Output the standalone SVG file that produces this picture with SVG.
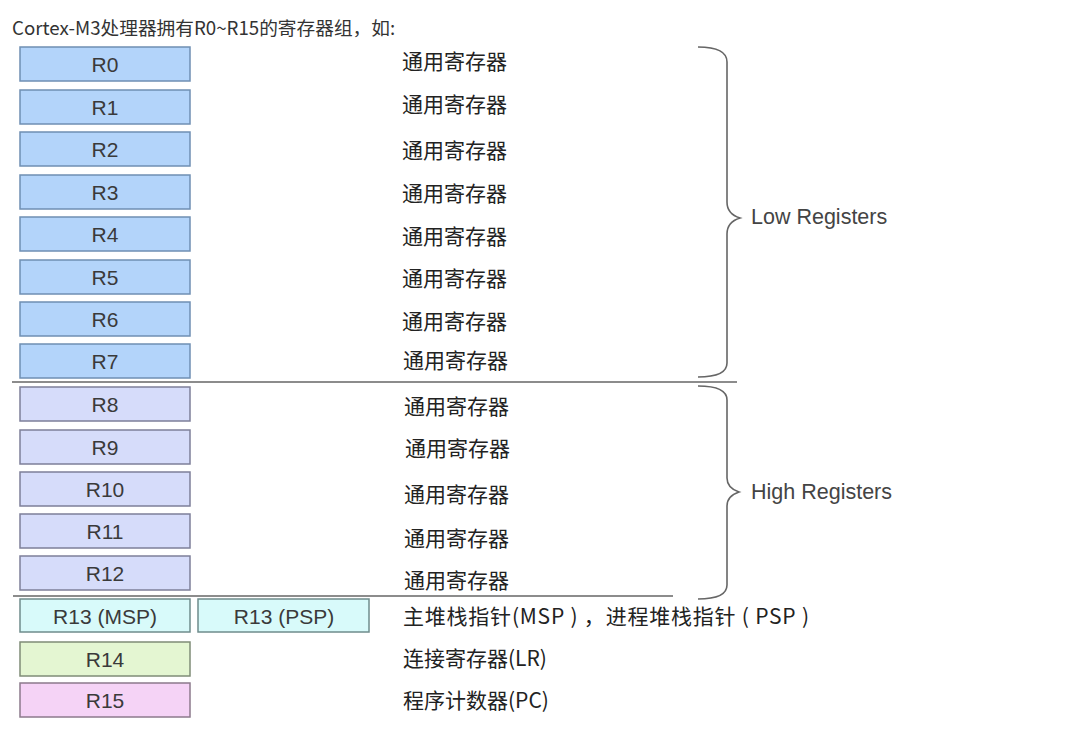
<svg xmlns="http://www.w3.org/2000/svg" width="1073" height="741" viewBox="0 0 1073 741">
<style>
.bg{fill:#ffffff}
.reg{stroke-width:1.5}
.low{fill:#b3d4fa;stroke:#6f8fb3}
.high{fill:#d6dcfa;stroke:#7d7f99}
.sp{fill:#d8fafa;stroke:#6f8c8c}
.lr{fill:#e4f6d2;stroke:#7f8c77}
.pc{fill:#f5d3f6;stroke:#8c7a8c}
.rt{font-family:"Liberation Sans",Arial,sans-serif;font-size:21px;fill:#3a3a3a;text-anchor:middle;dominant-baseline:central}
.desc{font-family:"Noto Sans CJK SC","Liberation Sans",sans-serif;font-size:21px;fill:#222;dominant-baseline:central}
.title{font-family:"Noto Sans CJK SC","Liberation Sans",sans-serif;font-size:18.7px;fill:#333}
.lab{font-family:"Liberation Sans",Arial,sans-serif;font-size:21.5px;fill:#444;dominant-baseline:central}
.brace{fill:none;stroke:#666;stroke-width:1.6}
.sep{stroke:#666;stroke-width:1.6}
</style>
<rect class="bg" x="0" y="0" width="1073" height="741"/>
<text class="title" x="12" y="35">Cortex-M3处理器拥有R0~R15的寄存器组，如:</text>

<g id="connectors">
<line class="sep" x1="12" y1="382" x2="737" y2="382"/>
<line class="sep" x1="13" y1="596" x2="673" y2="596"/>
<path class="brace" d="M698,47 Q727,47 727,62 L727,202 Q727,214 740,218 Q727,222 727,234 L727,363 Q727,377 698,377"/>
<path class="brace" d="M698,386 Q727,386 727,400 L727,478 Q727,488 739,492 Q727,496 727,506 L727,585 Q727,599 698,599"/>
</g>

<g id="r0"><rect class="reg low" x="20" y="47" width="170" height="34"/><text class="rt" x="105" y="64">R0</text><text class="desc" x="402" y="60">通用寄存器</text></g>
<g id="r1"><rect class="reg low" x="20" y="90" width="170" height="34"/><text class="rt" x="105" y="107">R1</text><text class="desc" x="402" y="103">通用寄存器</text></g>
<g id="r2"><rect class="reg low" x="20" y="132" width="170" height="34"/><text class="rt" x="105" y="149">R2</text><text class="desc" x="402" y="149">通用寄存器</text></g>
<g id="r3"><rect class="reg low" x="20" y="175" width="170" height="34"/><text class="rt" x="105" y="192">R3</text><text class="desc" x="402" y="192">通用寄存器</text></g>
<g id="r4"><rect class="reg low" x="20" y="217" width="170" height="34"/><text class="rt" x="105" y="234">R4</text><text class="desc" x="402" y="235">通用寄存器</text></g>
<g id="r5"><rect class="reg low" x="20" y="260" width="170" height="34"/><text class="rt" x="105" y="277">R5</text><text class="desc" x="402" y="277">通用寄存器</text></g>
<g id="r6"><rect class="reg low" x="20" y="302" width="170" height="34"/><text class="rt" x="105" y="319">R6</text><text class="desc" x="402" y="320">通用寄存器</text></g>
<g id="r7"><rect class="reg low" x="20" y="344" width="170" height="34"/><text class="rt" x="105" y="361">R7</text><text class="desc" x="403" y="359">通用寄存器</text></g>
<g id="r8"><rect class="reg high" x="20" y="387" width="170" height="34"/><text class="rt" x="105" y="404">R8</text><text class="desc" x="404" y="405">通用寄存器</text></g>
<g id="r9"><rect class="reg high" x="20" y="430" width="170" height="34"/><text class="rt" x="105" y="447">R9</text><text class="desc" x="405" y="447">通用寄存器</text></g>
<g id="r10"><rect class="reg high" x="20" y="472" width="170" height="34"/><text class="rt" x="105" y="489">R10</text><text class="desc" x="404" y="493">通用寄存器</text></g>
<g id="r11"><rect class="reg high" x="20" y="514" width="170" height="34"/><text class="rt" x="105" y="531">R11</text><text class="desc" x="404" y="537">通用寄存器</text></g>
<g id="r12"><rect class="reg high" x="20" y="556" width="170" height="34"/><text class="rt" x="105" y="573">R12</text><text class="desc" x="404" y="579">通用寄存器</text></g>
<g id="r13msp"><rect class="reg sp" x="20" y="599" width="170" height="33"/><text class="rt" x="105" y="616">R13 (MSP)</text></g>
<g id="r13psp"><rect class="reg sp" x="198" y="599" width="171" height="33"/><text class="rt" x="284" y="616">R13 (PSP)</text></g>
<g id="r13desc"><text class="desc" x="403" y="615" textLength="406" lengthAdjust="spacing">主堆栈指针(MSP ) ，进程堆栈指针 ( PSP )</text></g>
<g id="r14"><rect class="reg lr" x="20" y="642" width="170" height="34"/><text class="rt" x="105" y="659">R14</text><text class="desc" x="403" y="657">连接寄存器(LR)</text></g>
<g id="r15"><rect class="reg pc" x="20" y="683" width="170" height="34"/><text class="rt" x="105" y="700">R15</text><text class="desc" x="403" y="699">程序计数器(PC)</text></g>

<g id="low-label"><text class="lab" x="751" y="217">Low Registers</text></g>
<g id="high-label"><text class="lab" x="751" y="492">High Registers</text></g>
</svg>
